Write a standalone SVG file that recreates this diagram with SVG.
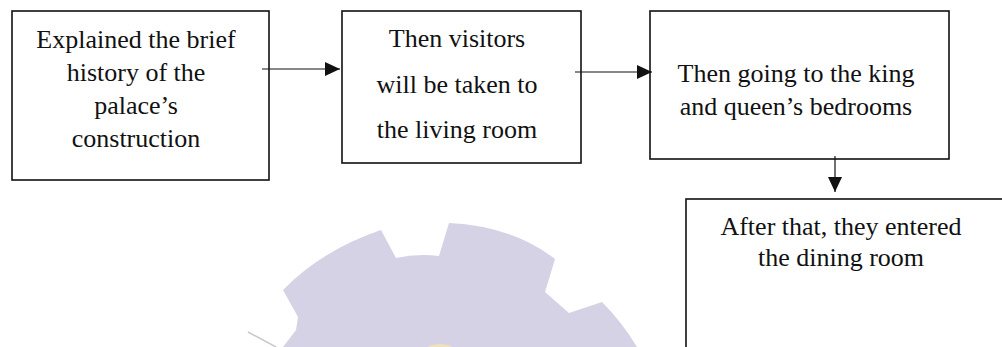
<svg xmlns="http://www.w3.org/2000/svg" width="1002" height="347" viewBox="0 0 1002 347">
  <defs>
    <style>
      .box { fill: none; stroke: #111; stroke-width: 1.6; }
      .label { font-family: "Liberation Serif", "Times New Roman", serif; font-size: 26px; fill: #111; text-anchor: middle; }
      .link { stroke: #111; stroke-width: 1.2; fill: none; marker-end: url(#head); }
    </style>
    <marker id="head" markerUnits="userSpaceOnUse" markerWidth="16" markerHeight="15" refX="15" refY="7" orient="auto">
      <path d="M0,0 L15,7 L0,14 Z" fill="#111"/>
    </marker>
  </defs>

  <rect width="1002" height="347" fill="#ffffff"/>

  <!-- faint gear emblem in the background -->
  <g id="emblem">
    <path d="M283,290 Q322,250 381,230 L396,258 Q418,253 439,256 L449,223 Q512,226 555,259 L545,292 L569,313 L602,302 Q622,322 637,347 L283,347 L296,330 L298,317 Z" fill="#d4d2e4"/>
    <line x1="248" y1="332" x2="276" y2="347" stroke="#c9c9cc" stroke-width="1.5"/>
    <ellipse cx="440" cy="350" rx="14" ry="6" fill="#eee2bd"/>
  </g>

  <g id="node-history">
    <rect class="box" x="12" y="11" width="257" height="169"/>
    <text class="label" x="136" y="48">Explained the brief</text>
    <text class="label" x="136" y="81">history of the</text>
    <text class="label" x="136" y="114">palace’s</text>
    <text class="label" x="136" y="147">construction</text>
  </g>

  <g id="node-living">
    <rect class="box" x="342" y="11" width="239" height="152"/>
    <text class="label" x="457" y="47">Then visitors</text>
    <text class="label" x="457" y="93">will be taken to</text>
    <text class="label" x="457" y="138">the living room</text>
  </g>

  <g id="node-bedrooms">
    <rect class="box" x="650" y="11" width="299" height="148"/>
    <text class="label" x="796" y="82">Then going to the king</text>
    <text class="label" x="796" y="115">and queen’s bedrooms</text>
  </g>

  <g id="node-dining">
    <rect class="box" x="686" y="199" width="330" height="200"/>
    <text class="label" x="841" y="235">After that, they entered</text>
    <text class="label" x="841" y="266">the dining room</text>
  </g>

  <g id="connectors">
    <line class="link" x1="262" y1="69" x2="340" y2="69"/>
    <line class="link" x1="575" y1="72" x2="652" y2="72"/>
    <line class="link" x1="835" y1="156" x2="835" y2="192"/>
  </g>
</svg>
